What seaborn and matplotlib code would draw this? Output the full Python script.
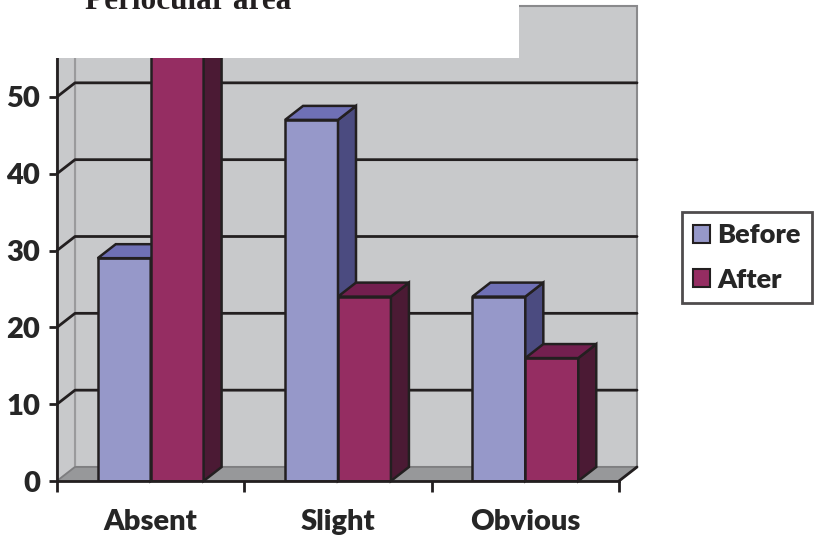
import pandas as pd
import matplotlib.pyplot as plt
import seaborn as sns
from matplotlib.patches import Polygon, Rectangle, Patch

# Dati (percentuali)
categories = ["Absent", "Slight", "Obvious"]
before = [29, 47, 24]
after = [60, 24, 16]
periods = ["Before", "After"]
y_ticks = [0, 10, 20, 30, 40, 50]

df = pd.DataFrame({
    "Category": categories * 2,
    "Period": ["Before"] * 3 + ["After"] * 3,
    "Value": before + after,
})

front_cols = ["#9698c9", "#952d62"]
side_cols = ["#4b4b80", "#4b1a34"]
top_cols = ["#6f70b5", "#731f4f"]
wall = "#c8c9cb"
floor = "#97989a"

sns.set_theme(style="white")
plt.rcParams["font.family"] = ["Lato", "DejaVu Sans"]
plt.rcParams["font.weight"] = "bold"

fig = plt.figure(figsize=(8.14, 5.35), dpi=100)
ax_rect = [57 / 814, 1 - 481 / 535, (619 - 57) / 814, (481 - 20) / 535]
ax = fig.add_axes(ax_rect)
ax.set_facecolor("none")

sns.barplot(data=df, x="Category", y="Value", hue="Period", hue_order=periods,
            palette=front_cols, width=0.565, gap=0, saturation=1,
            edgecolor="#231f20", linewidth=1.8, legend=False, ax=ax)

ax.set_xlim(-0.5, 2.5)
ax.set_ylim(0, 60)
x0, x1 = -0.5, 2.5
y0, y1 = 0, 60

# profondita' 3D in unita' dati (18 px a destra, 14 px in alto)
ax_w = ax_rect[2] * 814
ax_h = ax_rect[3] * 535
dx = 18 * (x1 - x0) / ax_w
dy = 14 * (y1 - y0) / ax_h

# pareti e pavimento
ax.add_patch(Polygon([(x0 + dx, y0 + dy), (x1 + dx, y0 + dy), (x1 + dx, y1 + dy), (x0 + dx, y1 + dy)],
                     closed=True, facecolor=wall, edgecolor="#8a8a8c", lw=1.5, zorder=0.5, clip_on=False))
ax.add_patch(Polygon([(x0, y0), (x0 + dx, y0 + dy), (x0 + dx, y1 + dy), (x0, y1)],
                     closed=True, facecolor=wall, edgecolor="#9a9a9c", lw=1.5, zorder=0.55, clip_on=False))
ax.add_patch(Polygon([(x0, y0), (x1, y0), (x1 + dx, y0 + dy), (x0 + dx, y0 + dy)],
                     closed=True, facecolor=floor, edgecolor="#7d7d7f", lw=1.2, zorder=0.6, clip_on=False))
ax.plot([x1, x1 + dx], [y0, y0 + dy], color="#231f20", lw=2, zorder=0.7, clip_on=False)

# griglia sulla parete
for t in y_ticks[1:]:
    ax.plot([x0, x0 + dx, x1 + dx], [t, t + dy, t + dy], color="#231f20", lw=2, zorder=0.8, clip_on=False)

# facce laterali e superiori delle barre
for i, cont in enumerate(ax.containers):
    z = 2 + i
    for bar in cont:
        bar.set_zorder(z)
        x, w, h = bar.get_x(), bar.get_width(), bar.get_height()
        side = Polygon([(x + w, 0), (x + w + dx, dy), (x + w + dx, h + dy), (x + w, h)], closed=True,
                       facecolor=side_cols[i], edgecolor="#231f20", lw=1.8, zorder=z + 0.1, clip_on=False)
        top = Polygon([(x, h), (x + w, h), (x + w + dx, h + dy), (x + dx, h + dy)], closed=True,
                      facecolor=top_cols[i], edgecolor="#231f20", lw=1.8, zorder=z + 0.1, clip_on=False)
        ax.add_patch(side)
        ax.add_patch(top)

# assi
for s in ["top", "right"]:
    ax.spines[s].set_visible(False)
for s in ["left", "bottom"]:
    ax.spines[s].set_color("#231f20")
    ax.spines[s].set_linewidth(2)
    ax.spines[s].set_zorder(5)

ax.set_yticks(y_ticks)
ax.set_yticklabels([str(t) for t in y_ticks], fontsize=21, fontweight="heavy")
ax.tick_params(axis="y", left=True, length=6, width=2, color="#231f20", pad=6)
ax.set_xticks(range(3))
ax.set_xticklabels(categories, fontsize=21, fontweight="heavy")
ax.set_xticks([-0.5, 0.5, 1.5, 2.5], minor=True)
ax.tick_params(axis="x", which="major", bottom=False, pad=14)
ax.tick_params(axis="x", which="minor", bottom=True, length=8, width=2, color="#231f20")
ax.set_xlabel("")
ax.set_ylabel("")
ax.grid(False)

# riquadro bianco del titolo
fig.add_artist(Rectangle((0, 1 - 58 / 535), 519 / 814, 58 / 535, transform=fig.transFigure,
                         facecolor="white", edgecolor="none", zorder=10))
fig.text(85 / 814, 1 - 9 / 535, "Periocular area", family=["Liberation Serif"], fontweight="bold",
         fontsize=22.5, va="baseline", ha="left", color="#231f20", zorder=11)

handles = [Patch(facecolor=front_cols[i], edgecolor="#231f20", lw=1.5) for i in range(2)]
leg = fig.legend(handles, periods, loc="upper right", bbox_to_anchor=(812 / 814, 1 - 212 / 535),
                 prop={"size": 19.5, "weight": "heavy"}, frameon=True, fancybox=False,
                 handlelength=0.65, handleheight=0.65, handletextpad=0.25, borderpad=0.42,
                 labelspacing=0.75, borderaxespad=0)
leg.get_frame().set_edgecolor("#231f20")
leg.get_frame().set_linewidth(2)

fig.savefig("out.png", dpi=100)
